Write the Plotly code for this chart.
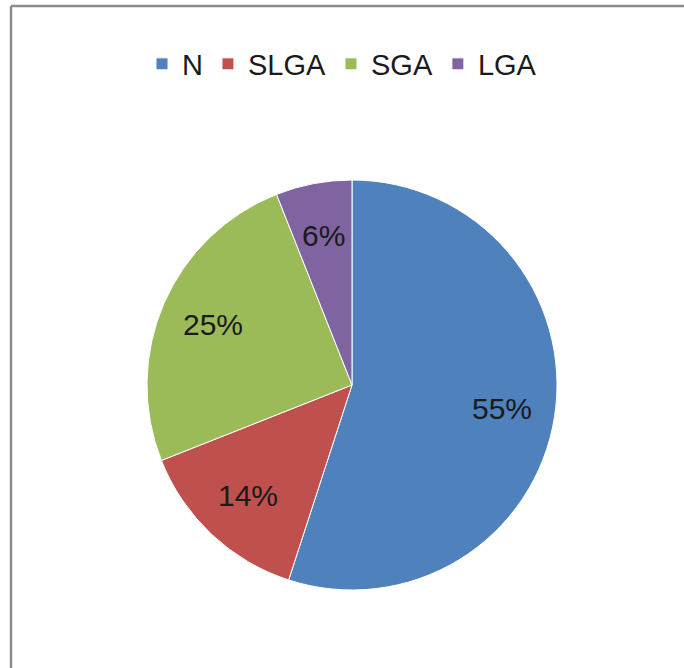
import math
import plotly.graph_objects as go

categories = ["N", "SLGA", "SGA", "LGA"]
values = [55, 14, 25, 6]
colors = ["#4F81BD", "#C0504D", "#9BBB59", "#8064A2"]

W, H = 684, 668
cx, cy, r = 352, 385, 205
label_frac = 0.74
FONT = "Liberation Sans, Arial, sans-serif"

fig = go.Figure(go.Pie(
    labels=categories,
    values=values,
    sort=False,
    direction="clockwise",
    rotation=0,
    marker=dict(colors=colors, line=dict(color="white", width=1)),
    textinfo="none",
    domain=dict(x=[(cx - r) / W, (cx + r) / W], y=[1 - (cy + r) / H, 1 - (cy - r) / H]),
    hoverinfo="label+percent",
))

# percentage labels placed along each slice's mid-angle (derived from the data)
total = sum(values)
annotations = []
cum = 0.0
for cat, v in zip(categories, values):
    mid = (cum + v / 2) / total * 2 * math.pi
    cum += v
    px = cx + math.sin(mid) * r * label_frac
    py = cy - math.cos(mid) * r * label_frac
    annotations.append(dict(
        x=px / W, y=1 - py / H, xref="paper", yref="paper",
        text=f"{round(v / total * 100)}%", showarrow=False,
        font=dict(family=FONT, size=30, color="#1a1a1a"),
        xanchor="center", yanchor="middle",
    ))

fig.update_layout(
    width=W, height=H,
    margin=dict(l=0, r=0, t=0, b=0),
    paper_bgcolor="white",
    plot_bgcolor="white",
    showlegend=True,
    legend=dict(
        orientation="h",
        x=0.5, xanchor="center",
        y=1 - 64 / H, yanchor="middle",
        font=dict(family=FONT, size=29, color="#1a1a1a"),
        traceorder="normal",
        itemwidth=30,
    ),
    annotations=annotations,
    shapes=[
        dict(type="line", xref="paper", yref="paper", x0=11 / W, x1=1, y0=1 - 6 / H, y1=1 - 6 / H,
             line=dict(color="#8c8c8c", width=2.5)),
        dict(type="line", xref="paper", yref="paper", x0=11 / W, x1=11 / W, y0=0, y1=1 - 6 / H,
             line=dict(color="#8c8c8c", width=2.5)),
    ],
)

fig.write_html("out.html", config={"displayModeBar": False},
               post_script="document.body.style.margin='0';document.body.style.overflow='hidden';")
